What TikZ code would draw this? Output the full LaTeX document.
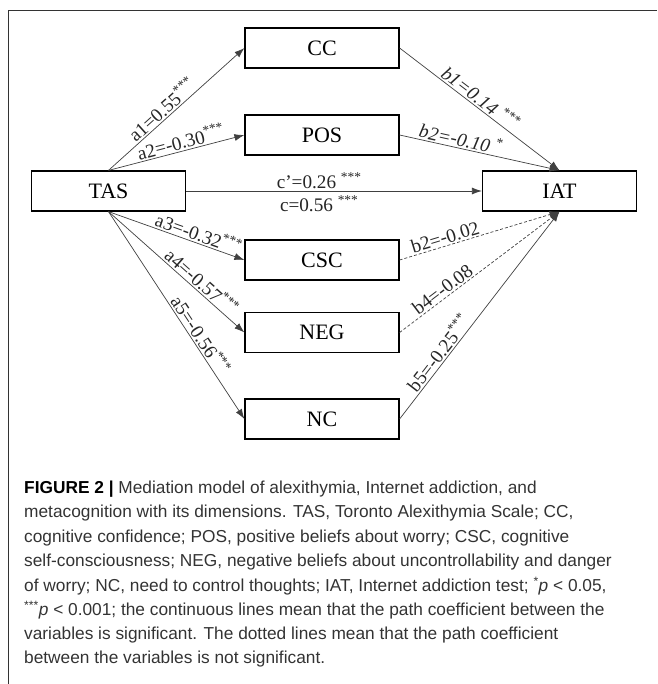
\documentclass[tikz,border=0pt]{standalone}
\usepackage{fontspec}
\setmainfont{Liberation Serif}
\newfontfamily\capfont{Liberation Sans}
\usetikzlibrary{arrows.meta}
\tikzset{
  box/.style={draw=black, line width=1.2pt, minimum width=154pt, minimum height=40pt, inner sep=0pt, font=\fontsize{22}{24}\selectfont},
  path/.style={draw=black!75, line width=0.7pt, -{Latex[length=10pt,width=7pt]}},
  ns/.style={path, dash pattern=on 3pt off 2pt},
  lab/.style={font=\fontsize{19.2}{21}\selectfont, inner sep=1.5pt, text=black!85},
  capline/.style={anchor=west, inner sep=0pt, text height=12.5pt, text depth=3.5pt, font=\capfont\fontsize{17.3}{20}\selectfont, text=black!80},
  frame/.style={draw=black!80, line width=0.9pt}
}
\begin{document}
\begin{tikzpicture}[x=1pt,y=-1pt]
\useasboundingbox (0,0) rectangle (657,684);
\draw[frame] (8,684) -- (8,10) -- (657,10);

\node[box] (TAS) at (108.5,191) {TAS};
\node[box] (IAT) at (559.5,191) {IAT};
\node[box] (CC)  at (322,48)  {CC};
\node[box] (POS) at (322,135) {POS};
\node[box] (CSC) at (322,260) {CSC};
\node[box] (NEG) at (322,332.5) {NEG};
\node[box] (NC)  at (322,419) {NC};

% a paths
\draw[path] (TAS.north) -- node[lab, sloped, above, pos=0.44] {a1=0.55\textsuperscript{***}} (CC.west);
\draw[path] (TAS.north) -- node[lab, sloped, above, pos=0.55] {a2=-0.30\textsuperscript{***}} (POS.west);
\draw[path] (TAS.south) -- node[lab, sloped, above, pos=0.64] {a3=-0.32\textsuperscript{***}} (CSC.west);
\draw[path] (TAS.south) -- node[lab, sloped, above, pos=0.64] {a4=-0.57\textsuperscript{***}} (NEG.west);
\draw[path] (TAS.south) -- node[lab, sloped, above, pos=0.62] {a5=-0.56\textsuperscript{***}} (NC.west);

% direct path
\draw[path] (TAS.east) -- node[lab, above, pos=0.45] {c'=0.26 \textsuperscript{***}}
                           node[lab, below, pos=0.45, inner sep=4pt] {c=0.56 \textsuperscript{***}} (IAT.west);

% b paths
\draw[path] (CC.east)  -- node[lab, sloped, above, pos=0.47] {\itshape b1=0.14 \textsuperscript{***}} (IAT.north);
\draw[path] (POS.east) -- node[lab, sloped, above, pos=0.37] {\itshape b2=-0.10 \textsuperscript{*}} (IAT.north);
\draw[ns]   (CSC.east) -- node[lab, sloped, above, pos=0.30] {b2=-0.02} (IAT.south);
\draw[ns]   (NEG.east) -- node[lab, sloped, above, pos=0.30] {b4=-0.08} (IAT.south);
\draw[path] (NC.east)  -- node[lab, sloped, above, pos=0.29] {b5=-0.25\textsuperscript{***}} (IAT.south);

% caption
\node[capline] (l1) at (24,489) {{\bfseries\color{black}FIGURE 2 |} Mediation model of alexithymia, Internet addiction, and};
\node[capline] (l2) at (24,513) {metacognition with its dimensions. TAS, Toronto Alexithymia Scale; CC,};
\node[capline] (l3) at (24,538) {cognitive confidence; POS, positive beliefs about worry; CSC, cognitive};
\node[capline] (l4) at (24,562) {self-consciousness; NEG, negative beliefs about uncontrollability and danger};
\node[capline] (l5) at (24,587) {of worry; NC, need to control thoughts; IAT, Internet addiction test; \textsuperscript{*}\textit{p} < 0.05,};
\node[capline] (l6) at (24,611) {\textsuperscript{***}\textit{p} < 0.001; the continuous lines mean that the path coefficient between the};
\node[capline] (l7) at (24,635) {variables is significant. The dotted lines mean that the path coefficient};
\node[capline] (l8) at (24,659) {between the variables is not significant.};
\end{tikzpicture}
\end{document}
